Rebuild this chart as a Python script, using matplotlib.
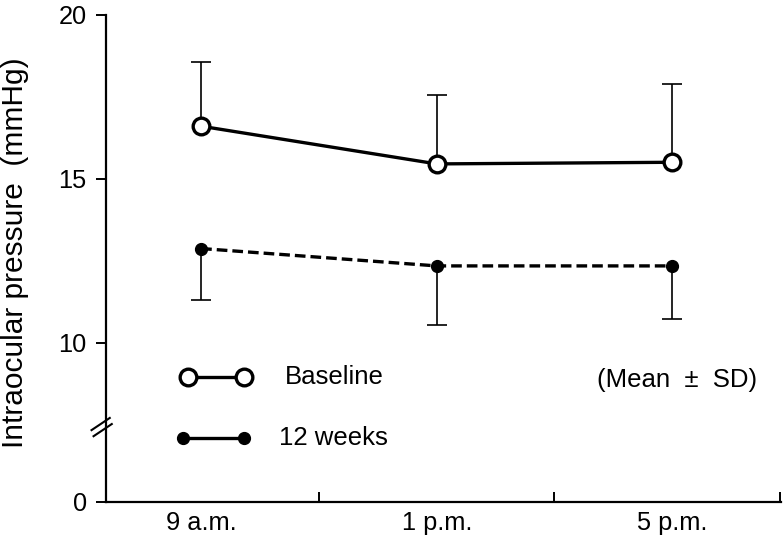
import numpy as np
import matplotlib
matplotlib.use("Agg")
import matplotlib.pyplot as plt

plt.rcParams['font.family'] = ['Liberation Sans', 'DejaVu Sans']

# ---- data ----
times = ['9 a.m.', '1 p.m.', '5 p.m.']
baseline_mean = [16.6, 15.45, 15.5]
baseline_sd = [1.95, 2.09, 2.38]
week12_mean = [12.87, 12.34, 12.34]
week12_sd = [1.57, 1.79, 1.61]
y_ticks = [0, 10, 15, 20]
series_labels = ['Baseline', '12 weeks']
note = '(Mean  \u00b1  SD)'

# broken y axis: 0..10 compressed
BRK_LO, BRK_K = 5.15, 0.485

def fwd(v):
    v = np.asarray(v, dtype=float)
    return np.where(v >= 10, v, BRK_LO + v * BRK_K)

def inv(d):
    d = np.asarray(d, dtype=float)
    return np.where(d >= 10, d, (d - BRK_LO) / BRK_K)

fig = plt.figure(figsize=(7.83, 5.40), dpi=100)
ax = fig.add_axes([0.135, 0.0709, 0.862, 0.9019])
ax.set_yscale('function', functions=(fwd, inv))

x = np.arange(len(times))

# baseline
ax.plot(x, baseline_mean, '-', color='black', lw=2.4, marker='o', ms=12,
        mfc='white', mec='black', mew=2.4, zorder=4)
eb1 = ax.errorbar(x, baseline_mean, yerr=[np.zeros(3), baseline_sd], fmt='none',
                  ecolor='black', elinewidth=1.2, capsize=7.5, capthick=1.2, zorder=2)
eb1[1][0].set_visible(False)

# 12 weeks
ax.plot(x, week12_mean, color='black', lw=2.4, ls=(0, (3.2, 1.5)), marker='o', ms=8.5,
        mfc='black', mec='black', zorder=4)
eb2 = ax.errorbar(x, week12_mean, yerr=[week12_sd, np.zeros(3)], fmt='none',
                  ecolor='black', elinewidth=1.2, capsize=7.5, capthick=1.2, zorder=2)
eb2[1][1].set_visible(False)

# axes
xl = (-0.405, 2.46)
ax.set_xlim(*xl)
ax.set_ylim(0, 20)
ax.set_yticks(y_ticks)
ax.set_yticklabels([str(t) for t in y_ticks])
ax.set_xticks(x)
ax.set_xticklabels(times)
ax.set_xticks([0.5, 1.5, xl[1] - 0.003], minor=True)
ax.tick_params(axis='x', which='major', length=0, pad=7, labelsize=18.3)
ax.tick_params(axis='x', which='minor', direction='in', length=7, width=1.4)
ax.tick_params(axis='y', which='major', direction='out', length=7.2, width=1.4,
               pad=6.5, labelsize=18.3)
ax.tick_params(axis='y', which='minor', length=0)
for s in ['top', 'right']:
    ax.spines[s].set_visible(False)
for s in ['left', 'bottom']:
    ax.spines[s].set_linewidth(1.6)

fig.text(0.019, 0.532, 'Intraocular pressure  (mmHg)', rotation=90,
         ha='center', va='center', fontsize=21.5)

# axis break marks
for cx, cy in [(-0.0075, 0.1595), (-0.0045, 0.147)]:
    ax.plot([cx - 0.0135, cx + 0.0135], [cy - 0.0125, cy + 0.0125], color='black',
            lw=1.5, transform=ax.transAxes, clip_on=False, zorder=5)

# legend (manual)
ax.plot([0.122, 0.205], [0.256, 0.256], '-', color='black', lw=2.4, marker='o', ms=12,
        mfc='white', mec='black', mew=2.4, transform=ax.transAxes, clip_on=False)
ax.text(0.2655, 0.256, series_labels[0], transform=ax.transAxes, fontsize=18.5,
        ha='left', va='center')
ax.plot([0.115, 0.2056], [0.131, 0.131], '-', color='black', lw=2.4, marker='o', ms=8.5,
        mfc='black', mec='black', transform=ax.transAxes, clip_on=False)
ax.text(0.257, 0.131, series_labels[1], transform=ax.transAxes, fontsize=18.5,
        ha='left', va='center')
ax.text(0.846, 0.25, note, transform=ax.transAxes, fontsize=18.5,
        ha='center', va='center')

fig.savefig('out.png', dpi=100)
